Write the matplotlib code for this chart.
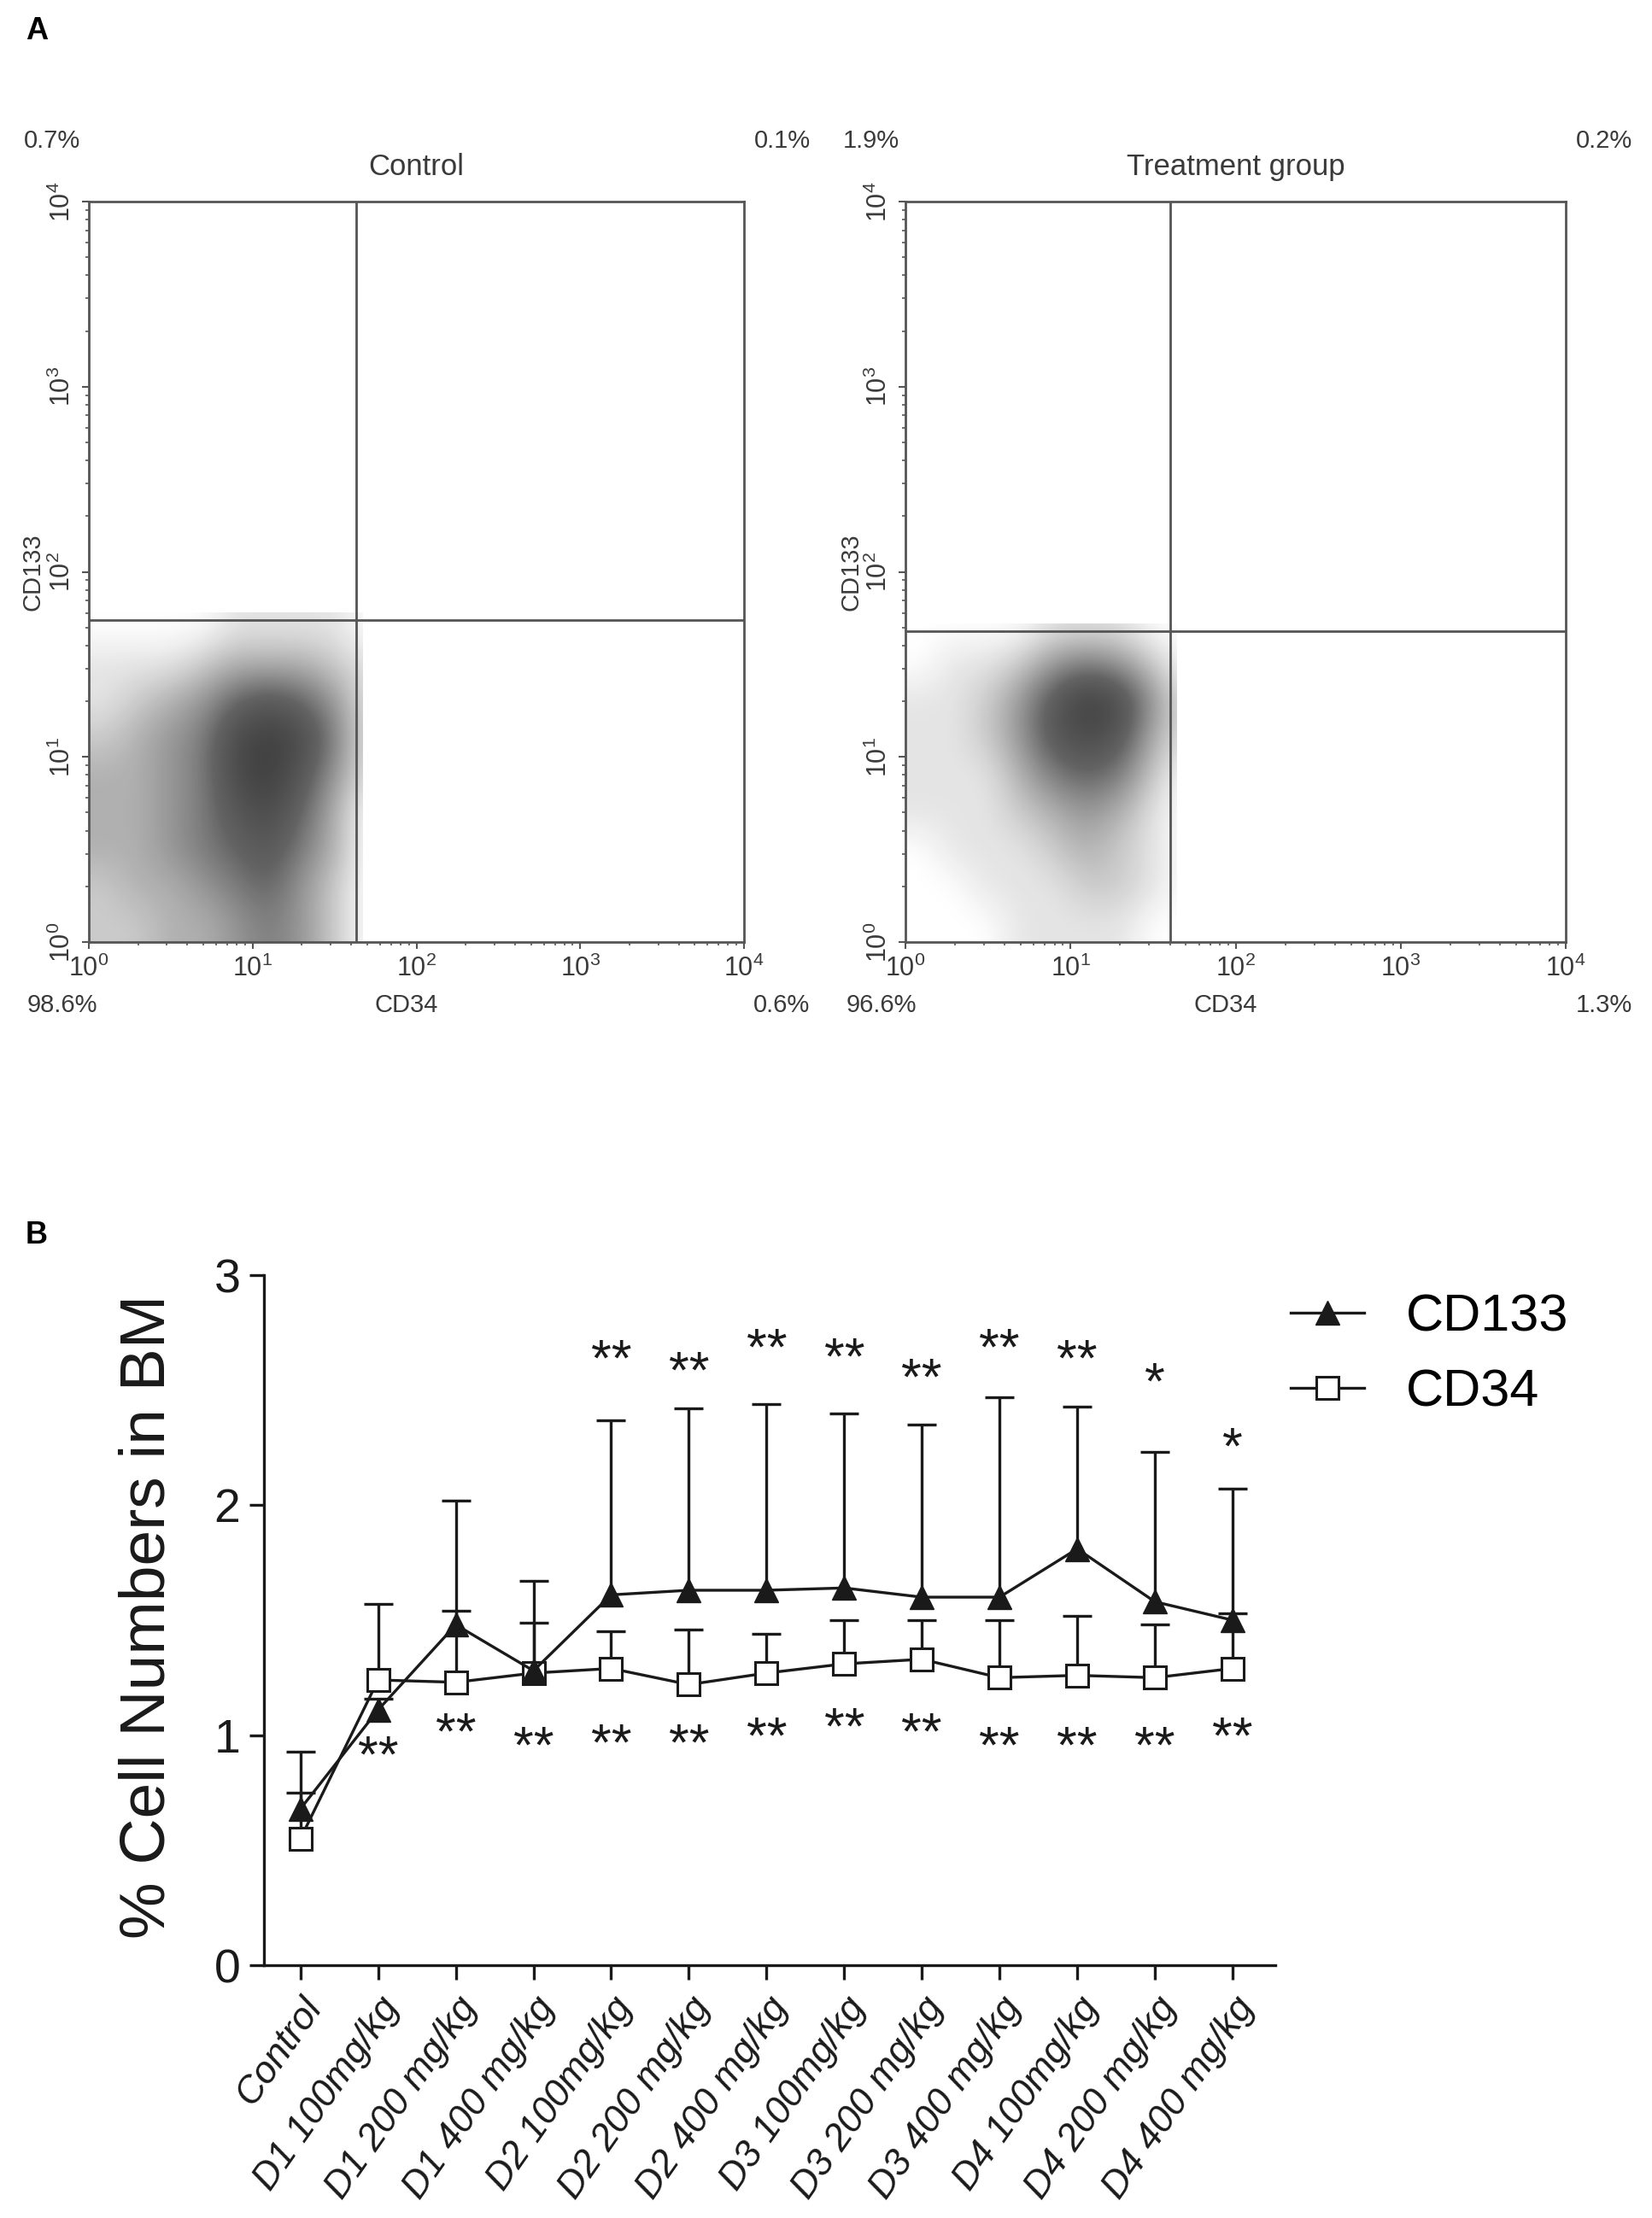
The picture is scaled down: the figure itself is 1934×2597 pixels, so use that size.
import matplotlib
matplotlib.use('Agg')
import matplotlib.pyplot as plt
import numpy as np
from matplotlib.colors import LinearSegmentedColormap
from matplotlib.lines import Line2D
from matplotlib.patches import Rectangle

plt.rcParams['font.family'] = ['Liberation Sans', 'DejaVu Sans']
plt.rcParams['mathtext.fontset'] = 'custom'
plt.rcParams['mathtext.rm'] = 'Liberation Sans'
plt.rcParams['mathtext.default'] = 'regular'

# ---------------- panel A data (flow cytometry) ----------------
decades = [0, 1, 2, 3, 4]
# estimated event density, log10 bins of 0.2 from 0 to 1.8
# rows: top (CD133 1.6-1.8) -> bottom (0-0.2), cols: CD34 0 -> 1.8
ctrl_density = [
    [0, 0, 0, 0, 1, 1, 1, 1, 0],
    [1, 1, 1, 2, 3, 3, 3, 2, 1],
    [1, 2, 3, 4, 6, 7, 6, 4, 1],
    [2, 3, 4, 5, 8, 9, 8, 5, 1],
    [3, 3, 4, 5, 8, 9, 7, 4, 1],
    [3, 3, 4, 5, 7, 8, 6, 3, 0],
    [3, 3, 4, 5, 6, 7, 5, 3, 0],
    [2, 3, 3, 4, 5, 6, 4, 2, 0],
    [2, 2, 3, 3, 4, 5, 4, 2, 0],
]
treat_density = [
    [0, 0, 0, 0, 1, 1, 1, 0, 0],
    [0, 1, 1, 2, 4, 5, 4, 2, 0],
    [1, 1, 2, 4, 7, 9, 8, 4, 1],
    [1, 1, 2, 4, 7, 8, 7, 3, 1],
    [1, 1, 1, 3, 5, 6, 5, 2, 0],
    [1, 1, 1, 2, 3, 4, 3, 1, 0],
    [0, 1, 1, 1, 2, 3, 2, 1, 0],
    [0, 0, 1, 1, 1, 2, 2, 1, 0],
    [0, 0, 0, 1, 1, 1, 1, 0, 0],
]
ctrl_gate = (43, 55)     # CD34, CD133 quadrant gates
treat_gate = (40, 48)
ctrl_pct = ['0.7%', '0.1%', '98.6%', '0.6%']   # UL, UR, LL, LR
treat_pct = ['1.9%', '0.2%', '96.6%', '1.3%']

# ---------------- panel B data ----------------
groups = ['Control', 'D1 100mg/kg', 'D1 200 mg/kg', 'D1 400 mg/kg',
          'D2 100mg/kg', 'D2 200 mg/kg', 'D2 400 mg/kg', 'D3 100mg/kg',
          'D3 200 mg/kg', 'D3 400 mg/kg', 'D4 100mg/kg', 'D4 200 mg/kg',
          'D4 400 mg/kg']
cd133 = [0.68, 1.11, 1.48, 1.28, 1.61, 1.63, 1.63, 1.64, 1.60, 1.60, 1.81, 1.58, 1.50]
cd133_top = [0.93, 1.16, 2.02, 1.67, 2.37, 2.42, 2.44, 2.40, 2.35, 2.47, 2.43, 2.23, 2.07]
cd34 = [0.55, 1.24, 1.23, 1.27, 1.29, 1.22, 1.27, 1.31, 1.33, 1.25, 1.26, 1.25, 1.29]
cd34_top = [0.75, 1.57, 1.54, 1.49, 1.45, 1.46, 1.44, 1.50, 1.50, 1.50, 1.52, 1.48, 1.53]
stars_hi = ['', '', '', '', '**', '**', '**', '**', '**', '**', '**', '*', '*']
stars_hi_y = [0, 0, 0, 0, 2.62, 2.57, 2.67, 2.63, 2.54, 2.67, 2.62, 2.52, 2.24]
stars_lo = ['', '**', '**', '**', '**', '**', '**', '**', '**', '**', '**', '**', '**']
stars_lo_y = [0, 0.90, 1.00, 0.94, 0.95, 0.95, 0.98, 1.02, 1.00, 0.94, 0.94, 0.94, 0.98]

W, H = 1934, 2597
fig = plt.figure(figsize=(W / 100, H / 100), dpi=100)

frame = '#555555'
txt = '#3a3a3a'
flow_cmap = LinearSegmentedColormap.from_list('flow', ['#ffffff', '#b0b0b0', '#636363', '#3e3e3e'])


def fbox(l, t, r, b):
    return [l / W, 1 - b / H, (r - l) / W, (b - t) / H]


def draw_flow(ax, dens, gate, pct, title, pos):
    gx, gy = np.log10(gate[0]), np.log10(gate[1])
    im = ax.imshow(np.array(dens, dtype=float), extent=(0, 1.8, 0, 1.8), origin='upper',
                   cmap=flow_cmap, vmin=0, vmax=9, interpolation='bicubic', aspect='auto', zorder=1)
    clip = Rectangle((0, 0), gx + 0.04, gy + 0.04, transform=ax.transData)
    im.set_clip_path(clip)
    ax.set_xlim(0, 4)
    ax.set_ylim(0, 4)
    ax.axvline(gx, color=frame, lw=2, zorder=3)
    ax.axhline(gy, color=frame, lw=2, zorder=3)
    for s in ax.spines.values():
        s.set_color(frame)
        s.set_linewidth(2)
    lab = ['$10^{%d}$' % d for d in decades]
    ax.set_xticks(decades)
    ax.set_xticklabels(lab, fontsize=22, color=txt)
    ax.set_yticks(decades)
    ax.set_yticklabels(lab, fontsize=22, color=txt, rotation=90, va='center')
    minor = [d + np.log10(k) for d in decades[:-1] for k in range(2, 10)]
    ax.set_xticks(minor, minor=True)
    ax.set_yticks(minor, minor=True)
    ax.tick_params(which='major', length=6, width=1.5, color=frame, pad=5)
    ax.tick_params(which='minor', length=3, width=1.2, color=frame)
    # quadrant percentages and labels
    xl, xr, yt, yb = pos
    ax.text(xl, yt, pct[0], transform=ax.transAxes, ha='center', va='center', fontsize=21, color=txt)
    ax.text(xr, yt, pct[1], transform=ax.transAxes, ha='center', va='center', fontsize=21, color=txt)
    ax.text(xl + 0.015, yb, pct[2], transform=ax.transAxes, ha='center', va='center', fontsize=21, color=txt)
    ax.text(xr, yb, pct[3], transform=ax.transAxes, ha='center', va='center', fontsize=21, color=txt)
    ax.text(0.485, yb, 'CD34', transform=ax.transAxes, ha='center', va='center', fontsize=21, color=txt)
    ax.text(xl - 0.03, 0.50, 'CD133', transform=ax.transAxes, ha='center', va='center',
            fontsize=21, color=txt, rotation=90)
    ax.set_title(title, fontsize=25, color=txt, pad=22)


ax1 = fig.add_axes(fbox(104, 236, 871, 1103))
draw_flow(ax1, ctrl_density, ctrl_gate, ctrl_pct, 'Control', (-0.056, 1.058, 1.082, -0.085))
ax2 = fig.add_axes(fbox(1060, 236, 1833, 1103))
draw_flow(ax2, treat_density, treat_gate, treat_pct, 'Treatment group', (-0.052, 1.058, 1.082, -0.085))

fig.text(30 / W, 1 - 36 / H, 'A', fontsize=26, fontweight='bold', va='center')
fig.text(30 / W, 1 - 1446 / H, 'B', fontsize=26, fontweight='bold', va='center')

# ---------------- panel B ----------------
ax = fig.add_axes(fbox(309, 1493, 1493, 2301))
x = np.arange(len(groups))
dark = '#1a1a1a'
lw = 2.4

cd133 = np.array(cd133)
cd34 = np.array(cd34)
ax.vlines(x, cd133, cd133_top, color=dark, lw=lw, zorder=2)
ax.plot(x, cd133_top, ls='none', marker='_', ms=24, mew=lw, color=dark, zorder=2)
ax.vlines(x, cd34, cd34_top, color=dark, lw=lw, zorder=2)
ax.plot(x, cd34_top, ls='none', marker='_', ms=24, mew=lw, color=dark, zorder=2)

ax.plot(x, cd34, color=dark, lw=lw, marker='s', ms=19, mfc='white', mec=dark, mew=2.2, zorder=3)
ax.plot(x, cd133, color=dark, lw=lw, marker='^', ms=20, mfc=dark, mec=dark, zorder=4)

for i in range(len(groups)):
    if stars_hi[i]:
        ax.text(x[i], stars_hi_y[i], stars_hi[i], ha='center', va='center', fontsize=44, color=dark)
    if stars_lo[i]:
        ax.text(x[i], stars_lo_y[i], stars_lo[i], ha='center', va='center', fontsize=44, color=dark)

ax.set_xlim(-0.47, 12.55)
ax.set_ylim(0, 3)
ax.spines['top'].set_visible(False)
ax.spines['right'].set_visible(False)
for s in ('left', 'bottom'):
    ax.spines[s].set_linewidth(lw)
    ax.spines[s].set_color(dark)
ax.set_yticks([0, 1, 2, 3])
ax.set_yticklabels(['0', '1', '2', '3'], fontsize=40, color=dark)
ax.set_xticks(x)
ax.set_xticklabels(groups, fontsize=32, style='italic', rotation=55, ha='right',
                   rotation_mode='anchor', color=dark)
ax.tick_params(axis='both', direction='out', length=12, width=lw, color=dark)
ax.tick_params(axis='x', pad=10)
ax.tick_params(axis='y', pad=8)
ax.set_ylabel('% Cell Numbers in BM', fontsize=54, color=dark)
ax.yaxis.set_label_coords(-0.086, 0.505)

handles = [Line2D([], [], color=dark, lw=lw, marker='^', ms=20, mfc=dark),
           Line2D([], [], color=dark, lw=lw, marker='s', ms=19, mfc='white', mew=2.2)]
ax.legend(handles, ['CD133', 'CD34'], loc='upper left', bbox_to_anchor=(0.753, 0.438),
          bbox_transform=fig.transFigure, frameon=False, fontsize=44,
          handlelength=1.4, handletextpad=0.8, labelspacing=0.5)

fig.savefig('out.png', dpi=100)
